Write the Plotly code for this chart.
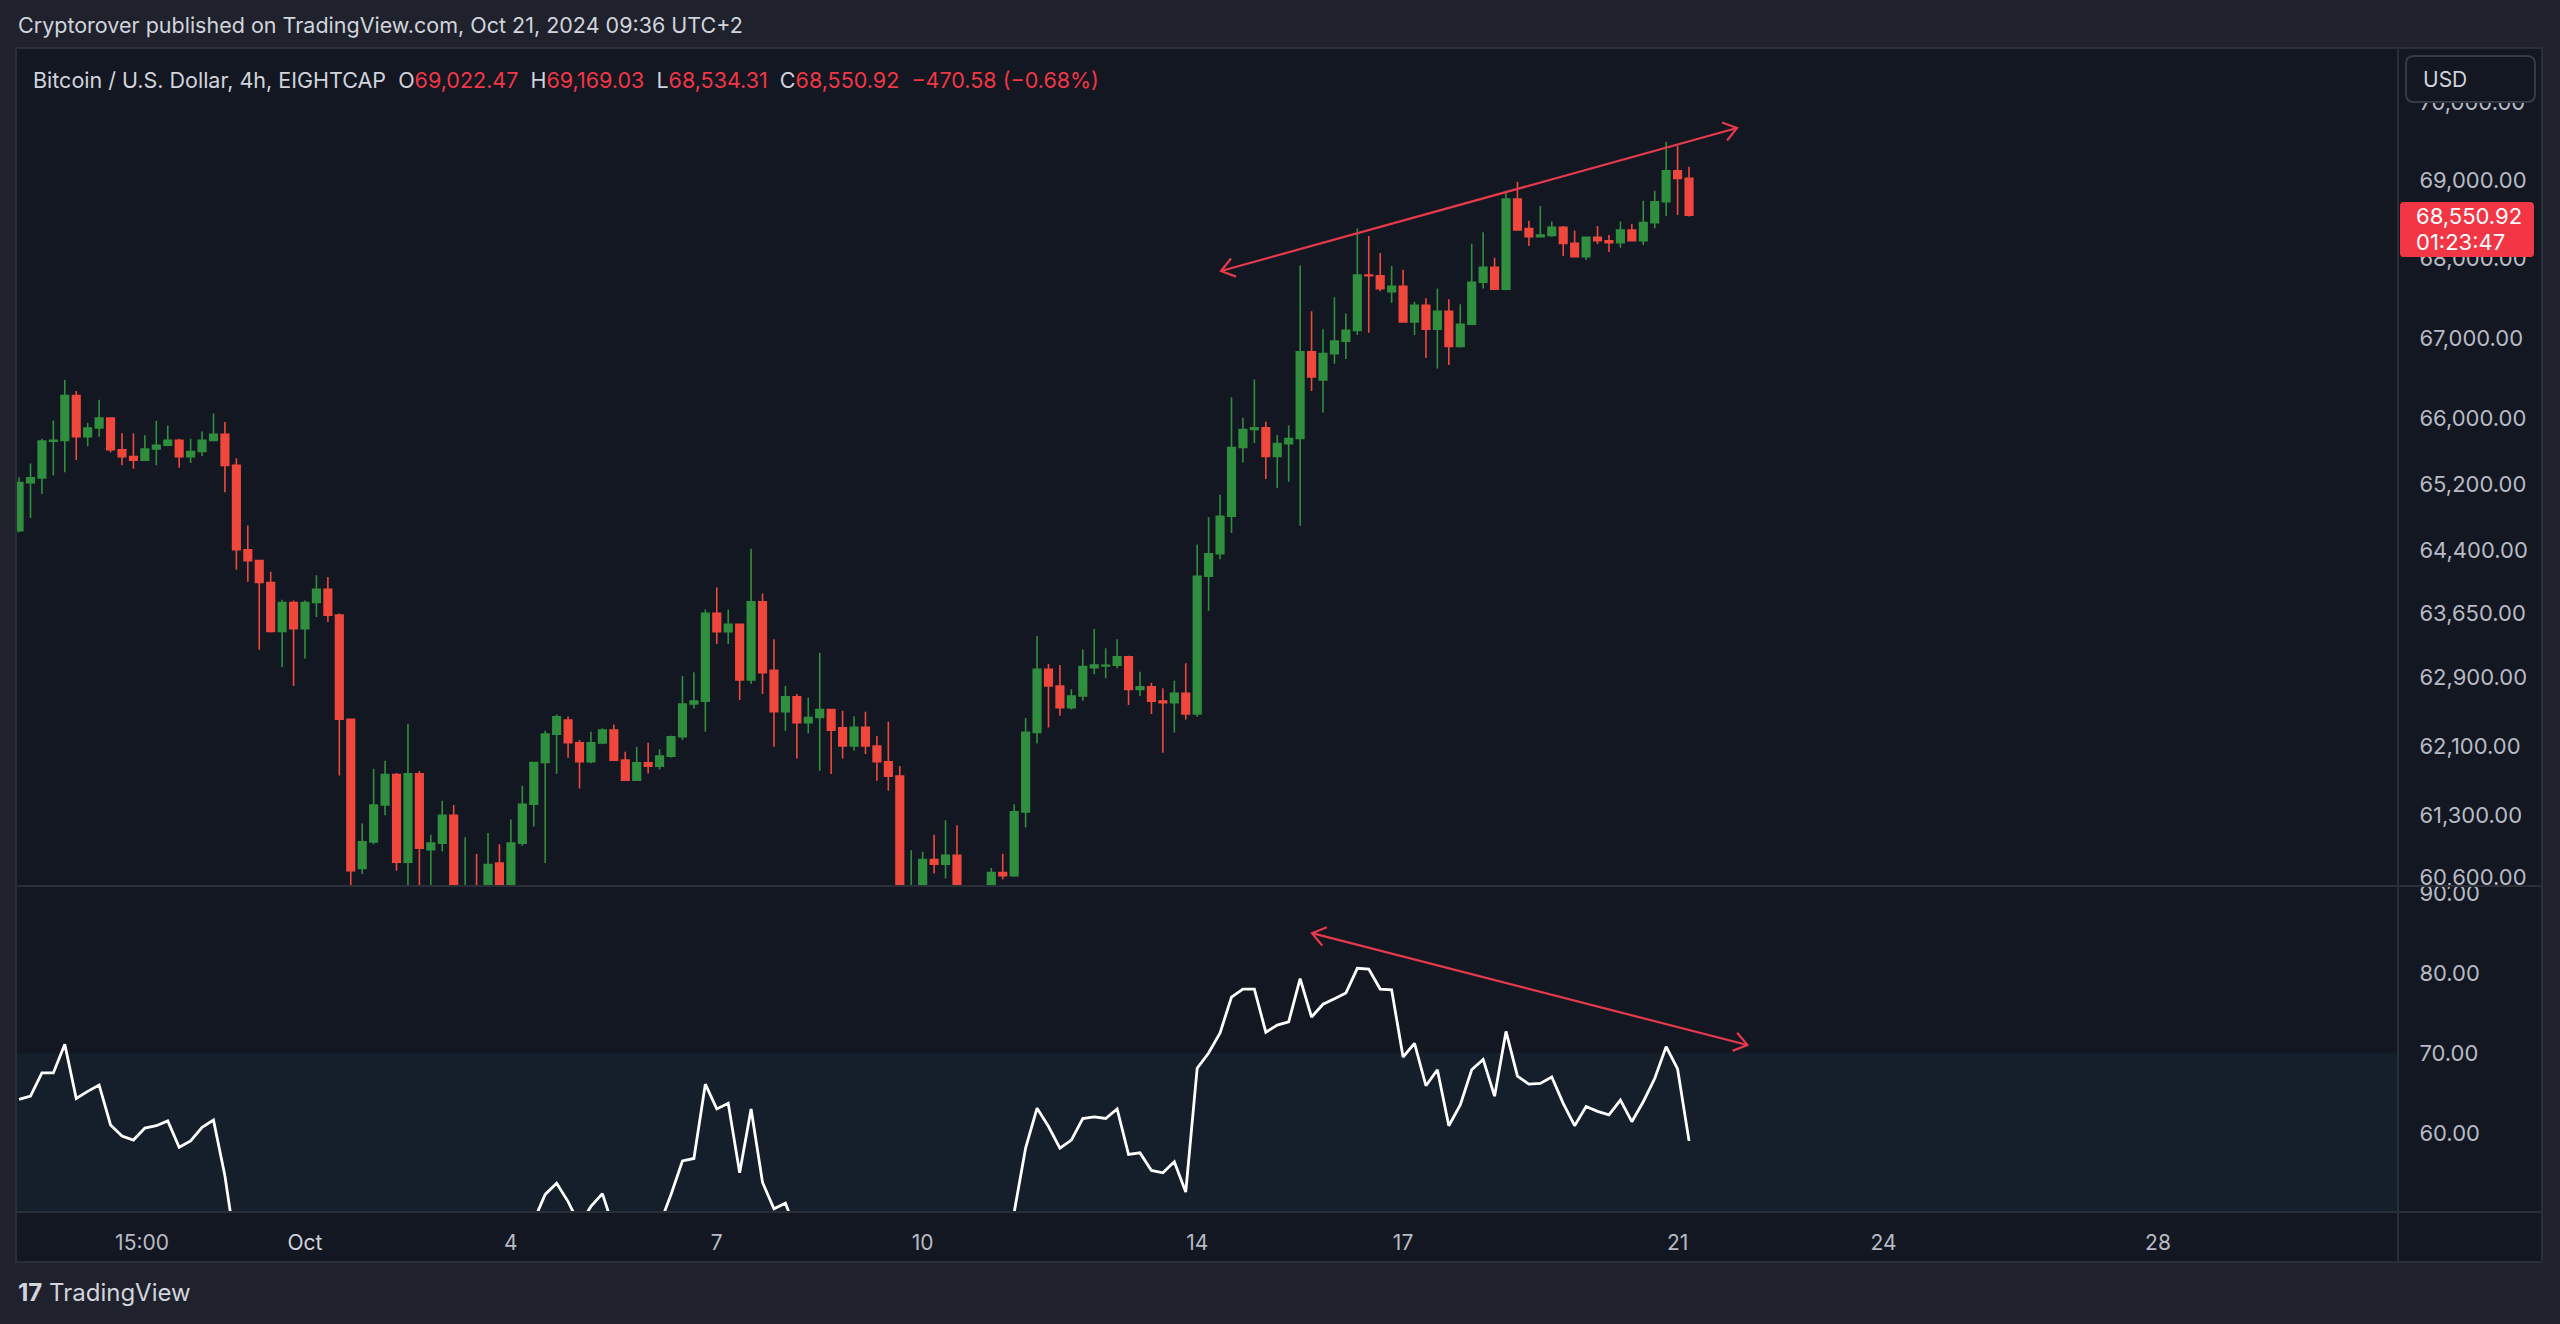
import math
import pandas as pd
import plotly.graph_objects as go

# ---------------- data (BTCUSD 4h) ----------------
CANDLE_START = "2024-09-26 20:00"
CANDLE_FREQ = "4h"

open_ = [64640, 65220, 65277, 65726, 65735, 66286, 65780, 65887, 66010, 65620,
         65536, 65494, 65629, 65675, 65735, 65536, 65599, 65735, 65810, 65430,
         64410, 64279, 64018, 63438, 63781, 63470, 63781, 63937, 63630, 62408,
         60700, 61000, 61421, 61770, 60771, 61778, 60910, 60986, 61302, 60350,
         60450, 60050, 60760, 60300, 60986, 61429, 61909, 62236, 62400, 62137,
         61917, 62135, 62283, 61936, 61706, 61905, 61867, 61982, 62206, 62586,
         62620, 63651, 63434, 63521, 62866, 63789, 62980, 62496, 62671, 62368,
         62430, 62523, 62310, 62098, 62314, 62098, 61917, 61752, 60300, 60450,
         60800, 60747, 60849, 60200, 59800, 60100, 60654, 60616, 61342, 62256,
         62991, 62796, 62543, 62679, 63010, 63030, 63040, 63140, 62757, 62788,
         62620, 62600, 62710, 62469, 64093, 64361, 64812, 65647, 65868, 65890,
         65538, 65695, 65757, 66828, 66480, 66805, 66961, 67095, 67790, 67781,
         67580, 67647, 67199, 67408, 67109, 67334, 66894, 67171, 67699, 67889,
         67610, 68757, 68380, 68276, 68290, 68395, 68191, 68021, 68268, 68225,
         68200, 68361, 68225, 68455, 68722, 69119, 69022.47]

high = [65285, 65452, 65756, 65980, 66478, 66341, 65950, 66234, 66020, 65823,
        65823, 65797, 65971, 65917, 65756, 65756, 65844, 66066, 65959, 65515,
        64700, 64290, 64148, 63813, 63805, 63805, 64106, 64085, 63650, 62410,
        61209, 61836, 61928, 61786, 62356, 61810, 61080, 61468, 61421, 61053,
        60863, 61102, 60974, 61255, 61640, 61910, 62275, 62463, 62440, 62168,
        62264, 62303, 62349, 62032, 62090, 62137, 62060, 62217, 62914, 62957,
        63698, 63960, 63698, 63525, 64422, 63888, 63345, 62796, 62702, 62663,
        63187, 62527, 62507, 62445, 62496, 62214, 62379, 61867, 60906, 60887,
        61080, 61247, 61190, 60400, 60450, 60704, 60864, 61430, 62424, 63384,
        63054, 63042, 62757, 63226, 63465, 63238, 63345, 63150, 62964, 62835,
        62769, 62859, 63062, 64472, 64800, 65073, 66262, 66012, 66483, 65962,
        65802, 65917, 67911, 67334, 67109, 67511, 67306, 68379, 68284, 68070,
        67903, 67858, 67453, 67498, 67619, 67484, 67422, 68185, 68331, 68010,
        68862, 68978, 68480, 68667, 68468, 68412, 68353, 68270, 68412, 68297,
        68468, 68438, 68735, 68862, 69494, 69438, 69169.03]

low = [64620, 64792, 65083, 65305, 65347, 65494, 65662, 65780, 65587, 65430,
       65389, 65490, 65430, 65662, 65402, 65460, 65545, 65726, 65104, 64170,
       64026, 63222, 63426, 63020, 62797, 63120, 63609, 63549, 61758, 60150,
       60636, 60974, 61302, 60673, 60300, 60350, 60400, 60890, 60200, 59900,
       59850, 59950, 60200, 60250, 60955, 61176, 60760, 61778, 61963, 61609,
       61900, 62120, 61930, 61700, 61695, 61783, 61829, 61965, 62168, 62535,
       62264, 63289, 63289, 62632, 62819, 62702, 62090, 62275, 61955, 62244,
       61813, 61775, 61955, 62044, 62006, 61698, 61583, 60200, 60100, 60300,
       60641, 60585, 60050, 59500, 58900, 60000, 60574, 60605, 61165, 62129,
       62314, 62450, 62523, 62624, 62933, 62886, 63003, 62574, 62679, 62469,
       62021, 62256, 62407, 62438, 63682, 64296, 64611, 65465, 65704, 65265,
       65156, 65230, 64698, 66341, 66076, 66680, 66738, 67036, 67064, 67587,
       67440, 67190, 67036, 66750, 66619, 66664, 66880, 67163, 67619, 67600,
       67600, 68360, 68157, 68270, 68276, 68030, 68020, 67979, 68183, 68081,
       68136, 68220, 68170, 68383, 68539, 68552, 68534.31]

close = [65220, 65277, 65726, 65735, 66286, 65780, 65887, 66010, 65620, 65536,
         65494, 65629, 65675, 65735, 65536, 65599, 65735, 65810, 65430, 64410,
         64279, 64018, 63438, 63781, 63470, 63781, 63937, 63630, 62408, 60673,
         61000, 61421, 61770, 60771, 61778, 60927, 60986, 61302, 60350, 60450,
         60050, 60743, 60300, 60986, 61429, 61909, 62236, 62436, 62137, 61917,
         62135, 62283, 61936, 61706, 61905, 61867, 61982, 62206, 62586, 62620,
         63651, 63434, 63521, 62866, 63789, 62952, 62496, 62671, 62368, 62430,
         62523, 62283, 62098, 62314, 62098, 61917, 61752, 60300, 60450, 60800,
         60747, 60849, 60200, 59800, 60100, 60654, 60616, 61342, 62256, 62991,
         62796, 62543, 62679, 63023, 63042, 63040, 63140, 62757, 62788, 62620,
         62600, 62710, 62469, 64093, 64361, 64812, 65647, 65868, 65890, 65538,
         65695, 65757, 66828, 66517, 66805, 66961, 67095, 67790, 67781, 67619,
         67647, 67199, 67408, 67109, 67334, 66894, 67171, 67699, 67889, 67610,
         68757, 68361, 68276, 68297, 68395, 68191, 68021, 68268, 68225, 68200,
         68361, 68225, 68455, 68722, 69119, 69021.50, 68550.92]

rsi = [64.2, 64.6, 67.5, 67.5, 71.1, 64.3, 65.2, 66.0, 61.0, 59.6,
       59.1, 60.6, 60.9, 61.5, 58.2, 59.0, 60.7, 61.6, 54.6, 45.0,
       42.5, 40.0, 35.5, 39.5, 37.0, 40.5, 42.5, 39.5, 31.0, 23.5,
       27.5, 32.5, 36.5, 30.0, 38.5, 32.5, 33.5, 38.0, 31.0, 32.5,
       30.5, 37.0, 33.5, 40.0, 44.5, 49.0, 52.3, 53.7, 51.4, 48.5,
       50.8, 52.4, 48.0, 45.5, 47.5, 46.5, 48.5, 52.3, 56.5, 56.8,
       66.1, 63.0, 63.7, 55.0, 63.0, 53.8, 50.5, 51.2, 47.5, 48.2,
       48.8, 46.5, 44.0, 46.5, 44.0, 42.0, 40.0, 30.0, 32.5, 36.5,
       35.5, 37.5, 32.0, 29.0, 33.5, 43.0, 42.0, 50.3, 58.1, 63.1,
       60.8, 58.1, 59.1, 61.8, 62.0, 61.8, 63.0, 57.3, 57.5, 55.3,
       55.0, 56.4, 52.6, 68.1, 70.0, 72.5, 77.0, 78.0, 78.0, 72.6,
       73.5, 73.9, 79.3, 74.5, 76.1, 76.8, 77.5, 80.6, 80.5, 78.0,
       77.9, 69.5, 71.2, 65.9, 67.9, 60.9, 63.5, 67.9, 69.2, 64.6,
       72.7, 67.1, 66.1, 66.2, 67.0, 63.7, 60.9, 63.3, 62.7, 62.25,
       64.1, 61.4, 63.9, 66.8, 70.8, 68.0, 59.0]

price_ticks = [60600, 61300, 62100, 62900, 63650, 64400, 65200, 66000, 67000, 68000, 69000, 70000]
rsi_ticks = [60, 70, 80, 90]
time_tick_vals = ["2024-09-28 15:00", "2024-10-01", "2024-10-04", "2024-10-07", "2024-10-10",
                  "2024-10-14", "2024-10-17", "2024-10-21", "2024-10-24", "2024-10-28"]
time_tick_text = ["15:00", "Oct", "4", "7", "10", "14", "17", "21", "24", "28"]

# drawn divergence lines (time, value)
price_trend_x = ["2024-10-14 08:20", "2024-10-21 20:47"]
price_trend_y = [67841, 69671]
rsi_trend_x = ["2024-10-15 16:09", "2024-10-22 00:25"]
rsi_trend_y = [85.0, 71.0]

SYMBOL = "Bitcoin / U.S. Dollar, 4h, EIGHTCAP"
HEADER = "Cryptorover published on TradingView.com, Oct 21, 2024 09:36 UTC+2"
COUNTDOWN = "01:23:47"

# ---------------- layout constants ----------------
W, H = 2560, 1324
ML, MR, MT, MB = 16, 162, 48, 112
PW, PH = W - ML - MR, H - MT - MB
SPLIT_Y = 886
BOX_RIGHT, BOX_BOTTOM = 2542, 1262
X_RANGE = ["2024-09-26 18:56", "2024-10-31 11:56"]
PRICE_RANGE = [60501, 70717]
RSI_RANGE = [50.1, 90.9]

BG_OUT = "#1f222c"
BG = "#131722"
GRIDLINE = "#2a2e39"
TXT = "#d1d4dc"
AX_TXT = "#b8bbc3"
GREEN = "#2f8f3e"
RED = "#f0473c"
RED_TXT = "#f23645"
DRAW = "#e63a4c"
BAND = "#141f2b"
FONT = "Inter, Roboto, sans-serif"


def px_x(x):
    return (x - ML) / PW


def px_y(y):
    return (H - MB - y) / PH


split = px_y(SPLIT_Y)
times = pd.date_range(CANDLE_START, periods=len(close), freq=CANDLE_FREQ)

# ---- pixel scales (for arrow chevrons and the price label) ----
t_lo, t_hi = pd.Timestamp(X_RANGE[0]), pd.Timestamp(X_RANGE[1])
px_per_day = PW / ((t_hi - t_lo).total_seconds() / 86400)
lg_lo, lg_hi = math.log10(PRICE_RANGE[0]), math.log10(PRICE_RANGE[1])
px_per_log = (SPLIT_Y - MT) / (lg_hi - lg_lo)
px_per_rsi = (H - MB - SPLIT_Y) / (RSI_RANGE[1] - RSI_RANGE[0])
ARROW_LEN, ARROW_ANG = 16, math.radians(36)

fig = go.Figure()
fig.add_trace(go.Candlestick(
    x=times, open=open_, high=high, low=low, close=close,
    increasing=dict(line=dict(color=GREEN, width=1.6), fillcolor=GREEN),
    decreasing=dict(line=dict(color=RED, width=1.6), fillcolor=RED),
    whiskerwidth=0, xaxis="x", yaxis="y", showlegend=False, hoverinfo="skip"))

fig.add_trace(go.Scatter(x=times, y=rsi, mode="lines", line=dict(color="#ffffff", width=2.8),
                         xaxis="x", yaxis="y2", showlegend=False, hoverinfo="skip"))


def trend_with_arrows(xs, ys, yaxis, to_px, from_px):
    """Line between two drawn points with open chevrons at both ends."""
    t0, t1 = pd.Timestamp(xs[0]), pd.Timestamp(xs[1])
    dx = (t1 - t0).total_seconds() / 86400 * px_per_day
    dy = to_px(ys[1]) - to_px(ys[0])
    L = math.hypot(dx, dy)
    ux, uy = dx / L, dy / L
    tx, ty = [t0, t1, None], [ys[0], ys[1], None]
    for t, v, (bx, by) in ((t0, ys[0], (ux, uy)), (t1, ys[1], (-ux, -uy))):
        pts = []
        for a in (ARROW_ANG, -ARROW_ANG):
            ca, sa = math.cos(a), math.sin(a)
            ax_ = ARROW_LEN * (bx * ca - by * sa)
            ay_ = ARROW_LEN * (bx * sa + by * ca)
            pts.append((t + pd.Timedelta(days=ax_ / px_per_day), from_px(to_px(v) + ay_)))
        tx += [pts[0][0], t, pts[1][0], None]
        ty += [pts[0][1], v, pts[1][1], None]
    fig.add_trace(go.Scatter(x=tx, y=ty, mode="lines", line=dict(color=DRAW, width=2.2),
                             xaxis="x", yaxis=yaxis, showlegend=False, hoverinfo="skip",
                             connectgaps=False))


trend_with_arrows(price_trend_x, price_trend_y, "y",
                  lambda v: math.log10(v) * px_per_log, lambda p: 10 ** (p / px_per_log))
trend_with_arrows(rsi_trend_x, rsi_trend_y, "y2",
                  lambda v: v * px_per_rsi, lambda p: p / px_per_rsi)


def rrect(x0, y0, x1, y1, r):
    pts = [("M", x0 + r, y0), ("L", x1 - r, y0), ("Q", x1, y0, x1, y0 + r), ("L", x1, y1 - r),
           ("Q", x1, y1, x1 - r, y1), ("L", x0 + r, y1), ("Q", x0, y1, x0, y1 - r),
           ("L", x0, y0 + r), ("Q", x0, y0, x0 + r, y0)]
    s = ""
    for p in pts:
        if p[0] == "Q":
            s += f"Q{px_x(p[1])},{px_y(p[2])} {px_x(p[3])},{px_y(p[4])} "
        else:
            s += f"{p[0]}{px_x(p[1])},{px_y(p[2])} "
    return s + "Z"


last_close = close[-1]
last_px = MT + (lg_hi - math.log10(last_close)) * px_per_log   # screen y of last close

shapes = [
    dict(type="rect", xref="paper", yref="paper", x0=px_x(16), x1=px_x(BOX_RIGHT),
         y0=px_y(BOX_BOTTOM), y1=px_y(MT), fillcolor=BG, line=dict(width=0), layer="below"),
    dict(type="rect", xref="x domain", yref="y2", x0=0, x1=1, y0=30, y1=70,
         fillcolor=BAND, line=dict(width=0), layer="below"),
    dict(type="line", xref="paper", yref="paper", x0=px_x(16), x1=px_x(BOX_RIGHT),
         y0=split, y1=split, line=dict(color=GRIDLINE, width=2), layer="above"),
    dict(type="line", xref="paper", yref="paper", x0=px_x(16), x1=px_x(BOX_RIGHT),
         y0=0, y1=0, line=dict(color=GRIDLINE, width=2), layer="above"),
    dict(type="line", xref="paper", yref="paper", x0=1, x1=1,
         y0=px_y(BOX_BOTTOM), y1=px_y(MT), line=dict(color=GRIDLINE, width=2), layer="above"),
    dict(type="rect", xref="paper", yref="paper", x0=px_x(16), x1=px_x(BOX_RIGHT),
         y0=px_y(BOX_BOTTOM), y1=px_y(MT), line=dict(color=GRIDLINE, width=2), layer="above"),
    dict(type="path", xref="paper", yref="paper", path=rrect(2406, 56, 2535, 102, 8),
         fillcolor=BG, line=dict(color="#363a45", width=2), layer="above"),
    dict(type="path", xref="paper", yref="paper",
         path=rrect(2400, last_px - 13, 2534, last_px + 42, 4),
         fillcolor=RED_TXT, line=dict(width=0), layer="above"),
]


def fmt(v):
    return f"{v:,.2f}"


chg = close[-1] - close[-2]
pct = chg / close[-2] * 100
sgn = "−" if chg < 0 else "+"
red = lambda s: f"<span style='color:{RED_TXT}'>{s}</span>"
sp = "&nbsp;&nbsp;"
legend_txt = (f"{SYMBOL}{sp}O{red(fmt(open_[-1]))}{sp}H{red(fmt(high[-1]))}{sp}"
              f"L{red(fmt(low[-1]))}{sp}C{red(fmt(close[-1]))}{sp}"
              f"{red(f'{sgn}{abs(chg):,.2f} ({sgn}{abs(pct):.2f}%)')}")

annotations = [
    dict(xref="paper", yref="paper", x=px_x(16), y=px_y(25), xanchor="left", yanchor="middle",
         text=HEADER, showarrow=False, font=dict(family=FONT, size=21.5, color=TXT)),
    dict(xref="paper", yref="paper", x=px_x(31), y=px_y(80), xanchor="left", yanchor="middle",
         text=legend_txt, showarrow=False, font=dict(family=FONT, size=21.5, color=TXT)),
    dict(xref="paper", yref="paper", x=px_x(2421), y=px_y(79), xanchor="left", yanchor="middle",
         text="USD", showarrow=False, font=dict(family=FONT, size=21, color=TXT)),
    dict(xref="paper", yref="paper", x=px_x(2414), y=px_y(last_px + 1), xanchor="left",
         yanchor="middle", text=fmt(last_close), showarrow=False,
         font=dict(family=FONT, size=22, color="#ffffff")),
    dict(xref="paper", yref="paper", x=px_x(2414), y=px_y(last_px + 27),
         xanchor="left", yanchor="middle", text=COUNTDOWN, showarrow=False,
         font=dict(family=FONT, size=22, color="#ffffff")),
    dict(xref="paper", yref="paper", x=px_x(16), y=px_y(1292), xanchor="left", yanchor="middle",
         text="<b>17</b> TradingView", showarrow=False,
         font=dict(family=FONT, size=24, color=TXT)),
]

axis_common = dict(showgrid=False, zeroline=False, showline=False, ticks="outside",
                   tickcolor="rgba(0,0,0,0)", fixedrange=True)

fig.update_layout(
    width=W, height=H, margin=dict(l=ML, r=MR, t=MT, b=MB),
    paper_bgcolor=BG_OUT, plot_bgcolor=BG, hovermode=False, showlegend=False,
    boxgap=0.34, boxgroupgap=0,
    xaxis=dict(type="date", range=X_RANGE, anchor="y2", tickvals=time_tick_vals,
               ticktext=[f"<span style='color:{TXT}'>{t}</span>" if t == "Oct" else t
                         for t in time_tick_text],
               ticklen=12, tickfont=dict(family=FONT, size=21, color=AX_TXT),
               rangeslider=dict(visible=False), **axis_common),
    yaxis=dict(domain=[split, 1], type="log", range=[lg_lo, lg_hi],
               side="right", anchor="x", tickvals=price_ticks,
               ticktext=[fmt(v) for v in price_ticks], ticklen=16,
               tickfont=dict(family=FONT, size=22, color=AX_TXT), **axis_common),
    yaxis2=dict(domain=[0, split], range=RSI_RANGE, side="right", anchor="x",
                tickvals=rsi_ticks, ticktext=[f"{v:.2f}" for v in rsi_ticks], ticklen=16,
                tickfont=dict(family=FONT, size=22, color=AX_TXT), **axis_common),
    shapes=shapes, annotations=annotations,
)

fig.write_html("out.html", config={"displayModeBar": False})
